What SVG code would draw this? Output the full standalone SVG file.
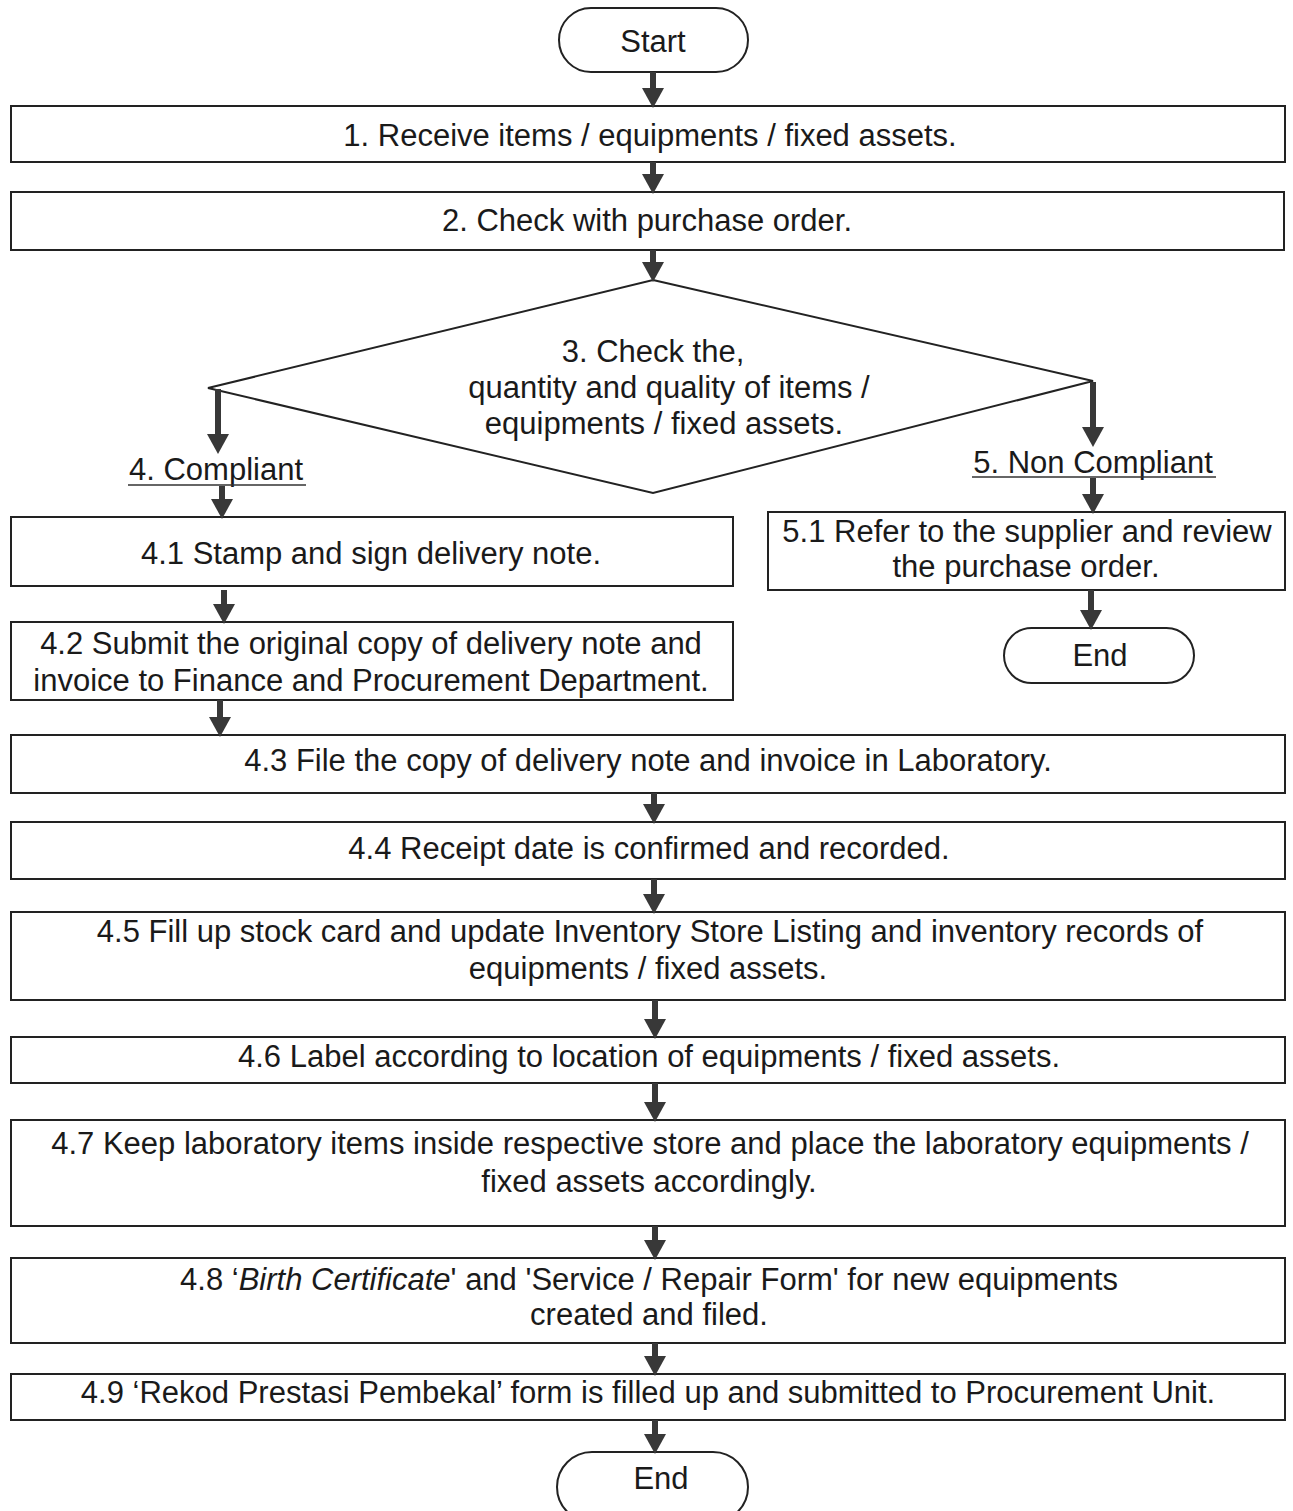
<svg xmlns="http://www.w3.org/2000/svg" width="1293" height="1511" viewBox="0 0 1293 1511">
<defs>
<marker id="ah" markerUnits="userSpaceOnUse" markerWidth="20" markerHeight="22" refX="0" refY="11" orient="auto" viewBox="0 0 20 22">
<path d="M0,0 L20,11 L0,22 Z" fill="#383838"/>
</marker>
<style>
.box{fill:#fff;stroke:#222;stroke-width:2}
.t{font-family:"Liberation Sans",Arial,sans-serif;font-size:31px;fill:#1a1a1a;text-anchor:middle}
.c line{stroke:#383838;stroke-width:6;marker-end:url(#ah)}
.d{fill:none;stroke:#222;stroke-width:2}
</style>
</defs>
<rect width="1293" height="1511" fill="#fff"/>

<g id="start"><rect class="box" x="559" y="8" width="189" height="64" rx="32"/><text class="t" x="653" y="52">Start</text></g>
<g id="n1"><rect class="box" x="11" y="106" width="1274" height="56"/><text class="t" x="650" y="146">1. Receive items / equipments / fixed assets.</text></g>
<g id="n2"><rect class="box" x="11" y="192" width="1273" height="58"/><text class="t" x="647" y="231">2. Check with purchase order.</text></g>
<g id="n3"><polygon class="d" points="653,280 1093,381 653,493 208,388" fill="#fff"/>
<text class="t" x="653" y="362">3. Check the,</text>
<text class="t" x="669" y="398">quantity and quality of items /</text>
<text class="t" x="664" y="434">equipments / fixed assets.</text></g>
<g id="l4"><text class="t" x="216" y="480">4. Compliant</text><line x1="128" y1="485" x2="306" y2="485" stroke="#333" stroke-width="1.5"/></g>
<g id="l5"><text class="t" x="1093" y="473">5. Non Compliant</text><line x1="972" y1="477" x2="1216" y2="477" stroke="#333" stroke-width="1.5"/></g>
<g id="n41"><rect class="box" x="11" y="517" width="722" height="69"/><text class="t" x="371" y="564">4.1 Stamp and sign delivery note.</text></g>
<g id="n42"><rect class="box" x="11" y="622" width="722" height="78"/><text class="t" x="371" y="654">4.2 Submit the original copy of delivery note and</text><text class="t" x="371" y="691">invoice to Finance and Procurement Department.</text></g>
<g id="n51"><rect class="box" x="768" y="512" width="517" height="78"/><text class="t" x="1027" y="542">5.1 Refer to the supplier and review</text><text class="t" x="1026" y="577">the purchase order.</text></g>
<g id="end1"><rect class="box" x="1004" y="628" width="190" height="55" rx="27.5"/><text class="t" x="1100" y="666">End</text></g>
<g id="n43"><rect class="box" x="11" y="735" width="1274" height="58"/><text class="t" x="648" y="771">4.3 File the copy of delivery note and invoice in Laboratory.</text></g>
<g id="n44"><rect class="box" x="11" y="822" width="1274" height="57"/><text class="t" x="649" y="859">4.4 Receipt date is confirmed and recorded.</text></g>
<g id="n45"><rect class="box" x="11" y="912" width="1274" height="88"/><text class="t" x="650" y="942">4.5 Fill up stock card and update Inventory Store Listing and inventory records of</text><text class="t" x="648" y="979">equipments / fixed assets.</text></g>
<g id="n46"><rect class="box" x="11" y="1037" width="1274" height="46"/><text class="t" x="649" y="1067">4.6 Label according to location of equipments / fixed assets.</text></g>
<g id="n47"><rect class="box" x="11" y="1120" width="1274" height="106"/><text class="t" x="650" y="1154">4.7 Keep laboratory items inside respective store and place the laboratory equipments /</text><text class="t" x="649" y="1192">fixed assets accordingly.</text></g>
<g id="n48"><rect class="box" x="11" y="1258" width="1274" height="85"/><text class="t" x="649" y="1290">4.8 ‘<tspan font-style="italic">Birth Certificate</tspan>' and 'Service / Repair Form' for new equipments</text><text class="t" x="649" y="1325">created and filed.</text></g>
<g id="n49"><rect class="box" x="11" y="1374" width="1274" height="46"/><text class="t" x="648" y="1403">4.9 ‘Rekod Prestasi Pembekal’ form is filled up and submitted to Procurement Unit.</text></g>
<g id="end2"><rect class="box" x="557" y="1452" width="191" height="70" rx="35"/><text class="t" x="661" y="1489">End</text></g>

<g id="connectors" class="c">
<line x1="653" y1="72" x2="653" y2="88"/>
<line x1="653" y1="162" x2="653" y2="174"/>
<line x1="653" y1="250" x2="653" y2="262"/>
<line x1="218" y1="389" x2="218" y2="434"/>
<line x1="222" y1="486" x2="222" y2="499"/>
<line x1="224" y1="590" x2="224" y2="604"/>
<line x1="220" y1="700" x2="220" y2="717"/>
<line x1="1093" y1="382" x2="1093" y2="427"/>
<line x1="1093" y1="478" x2="1093" y2="494"/>
<line x1="1091" y1="590" x2="1091" y2="610"/>
<line x1="654" y1="793" x2="654" y2="804"/>
<line x1="654" y1="879" x2="654" y2="894"/>
<line x1="655" y1="1000" x2="655" y2="1019"/>
<line x1="655" y1="1083" x2="655" y2="1102"/>
<line x1="655" y1="1226" x2="655" y2="1240"/>
<line x1="655" y1="1343" x2="655" y2="1356"/>
<line x1="655" y1="1420" x2="655" y2="1434"/>
</g>
</svg>
